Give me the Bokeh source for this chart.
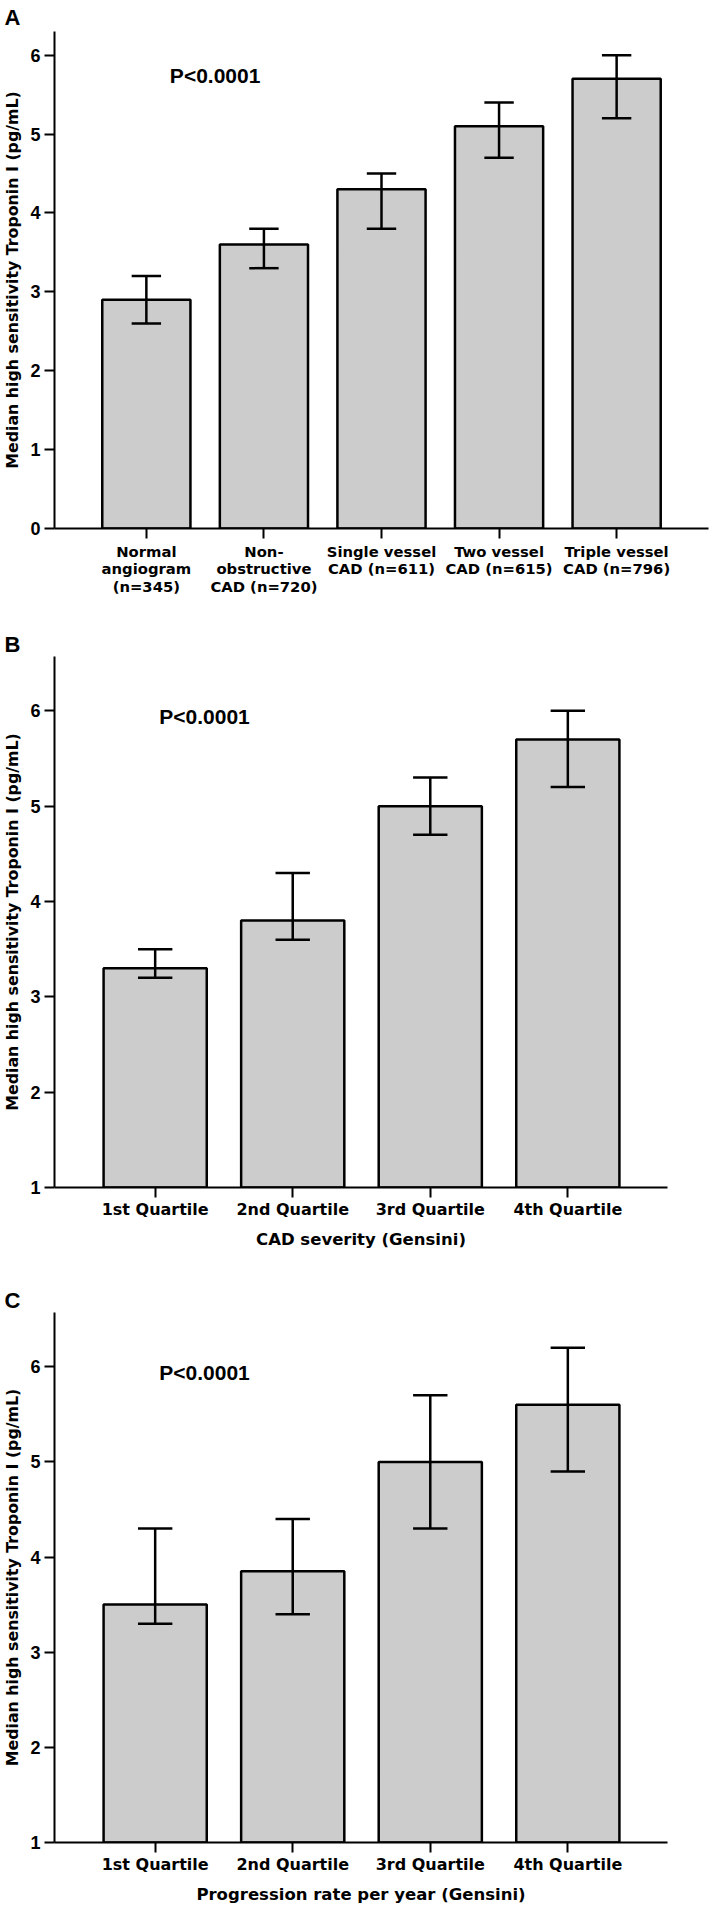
from bokeh.plotting import figure
from bokeh.layouts import column
from bokeh.models import Label, FixedTicker, ColumnDataSource, Range1d
from bokeh.embed import file_html
from bokeh.resources import INLINE

# ---------------- data ----------------
y_label = "Median high sensitivity Troponin I (pg/mL)"
p_text = "P<0.0001"

cats_a = ["Normal\nangiogram\n(n=345)", "Non-\nobstructive\nCAD (n=720)",
          "Single vessel\nCAD (n=611)", "Two vessel\nCAD (n=615)",
          "Triple vessel\nCAD (n=796)"]
median_a = [2.9, 3.6, 4.3, 5.1, 5.7]
lower_a = [2.6, 3.3, 3.8, 4.7, 5.2]
upper_a = [3.2, 3.8, 4.5, 5.4, 6.0]
ticks_a = [0, 1, 2, 3, 4, 5, 6]

cats_b = ["1st Quartile", "2nd Quartile", "3rd Quartile", "4th Quartile"]
median_b = [3.3, 3.8, 5.0, 5.7]
lower_b = [3.2, 3.6, 4.7, 5.2]
upper_b = [3.5, 4.3, 5.3, 6.0]
xlabel_b = "CAD severity (Gensini)"

cats_c = ["1st Quartile", "2nd Quartile", "3rd Quartile", "4th Quartile"]
median_c = [3.5, 3.85, 5.0, 5.6]
lower_c = [3.3, 3.4, 4.3, 4.9]
upper_c = [4.3, 4.4, 5.7, 6.2]
xlabel_c = "Progression rate per year (Gensini)"
ticks_bc = [1, 2, 3, 4, 5, 6]

BAR_FILL = "#cccccc"
INK = "#000000"
TXT_FONT = "DejaVu Sans"
NUM_FONT = "Liberation Sans"


def make_panel(letter, cats, med, lo, hi, yticks, x_start, x_end, y_start, y_end,
               width, height, mb_top, mb_bottom, mb_right, tick_font_size,
               letter_standoff, p_x, p_y, xlabel=None, label_line_height=1.2,
               label_standoff=4):
    n = len(cats)
    xs = list(range(1, n + 1))
    src = ColumnDataSource(dict(x=xs, top=med, lower=lo, upper=hi,
                                base=[y_start] * n))
    p = figure(width=width, height=height,
               x_range=Range1d(x_start, x_end), y_range=Range1d(y_start, y_end),
               output_backend="svg", toolbar_location=None,
               min_border_left=53, min_border_right=mb_right,
               min_border_top=mb_top, min_border_bottom=mb_bottom)
    p.outline_line_color = None
    p.grid.visible = False
    p.background_fill_color = "white"
    p.border_fill_color = "white"

    # panel letter as title
    p.title.text = letter
    p.title.align = "left"
    p.title.offset = -50
    p.title.standoff = letter_standoff
    p.title.text_font = NUM_FONT
    p.title.text_font_style = "bold"
    p.title.text_font_size = "22px"
    p.title.text_color = INK

    p.vbar(x="x", top="top", bottom="base", width=0.75, source=src,
           fill_color=BAR_FILL, line_color=INK, line_width=2.5)
    cap = 0.125
    p.segment(x0="x", y0="lower", x1="x", y1="upper", source=src,
              line_color=INK, line_width=2.5)
    src_caps = ColumnDataSource(dict(
        x0=[x - cap for x in xs] * 2, x1=[x + cap for x in xs] * 2,
        y=list(lo) + list(hi)))
    p.segment(x0="x0", y0="y", x1="x1", y1="y", source=src_caps,
              line_color=INK, line_width=2.5)

    # axes
    for ax in (p.xaxis[0], p.yaxis[0]):
        ax.axis_line_width = 2
        ax.axis_line_color = INK
        ax.major_tick_line_width = 2
        ax.major_tick_line_color = INK
        ax.major_tick_out = 10
        ax.major_tick_in = 0
        ax.minor_tick_out = 0
        ax.minor_tick_in = 0
        ax.major_label_text_color = INK

    p.yaxis.ticker = FixedTicker(ticks=yticks)
    p.yaxis.major_label_text_font = NUM_FONT
    p.yaxis.major_label_text_font_style = "bold"
    p.yaxis.major_label_text_font_size = "18px"
    p.yaxis.major_label_standoff = 4
    p.yaxis.axis_label = y_label
    p.yaxis.axis_label_text_font = TXT_FONT
    p.yaxis.axis_label_text_font_style = "bold"
    p.yaxis.axis_label_text_font_size = "15.8px"
    p.yaxis.axis_label_text_color = INK
    p.yaxis.axis_label_standoff = 5

    p.xaxis.ticker = FixedTicker(ticks=xs)
    p.xaxis.major_label_overrides = {x: c for x, c in zip(xs, cats)}
    p.xaxis.major_label_text_font = TXT_FONT
    p.xaxis.major_label_text_font_style = "bold"
    p.xaxis.major_label_text_font_size = tick_font_size
    p.xaxis.major_label_text_line_height = label_line_height
    p.xaxis.major_label_standoff = label_standoff
    if xlabel:
        p.xaxis.axis_label = xlabel
        p.xaxis.axis_label_text_font = TXT_FONT
        p.xaxis.axis_label_text_font_style = "bold"
        p.xaxis.axis_label_text_font_size = "16.5px"
        p.xaxis.axis_label_text_color = INK
        p.xaxis.axis_label_standoff = 8

    p.add_layout(Label(x=p_x, y=p_y, text=p_text, text_font=NUM_FONT,
                       text_font_style="bold", text_font_size="21px",
                       text_color=INK, text_align="left", text_baseline="middle"))
    return p


pa = make_panel("A", cats_a, median_a, lower_a, upper_a, ticks_a,
                0.2187, 5.7814, 0, 6.30, 709, 600, 31, 72, 1, "14.8px", 4,
                1.2, 5.74, label_line_height=1.05)
pb = make_panel("B", cats_b, median_b, lower_b, upper_b, ticks_bc,
                0.2681, 4.7246, 1, 6.57, 668, 651, 56, 64, 0, "16px", 0,
                1.03, 5.94, xlabel=xlabel_b, label_standoff=2)
pc = make_panel("C", cats_c, median_c, lower_c, upper_c, ticks_bc,
                0.2681, 4.7246, 1, 6.57, 668, 655, 61, 64, 0, "16px", 0,
                1.03, 5.94, xlabel=xlabel_c, label_standoff=2)

layout = column(pa, pb, pc, spacing=0)
open("out.html", "w").write(file_html(layout, INLINE))
